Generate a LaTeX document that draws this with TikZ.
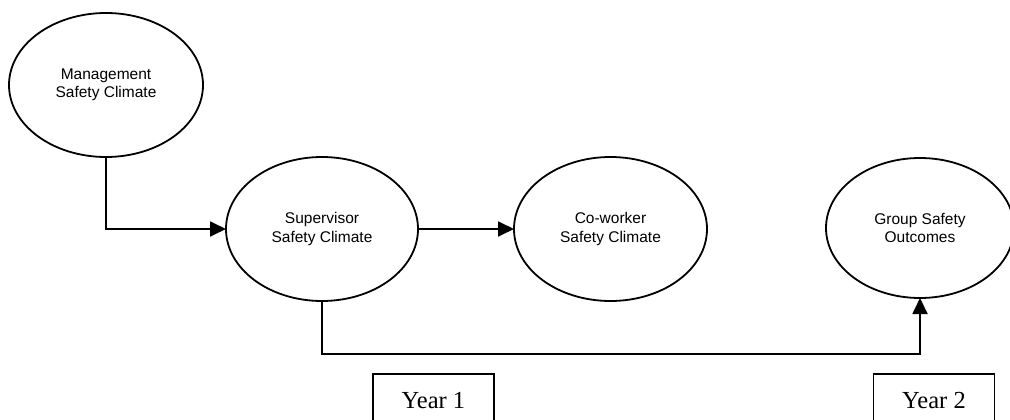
\documentclass[tikz,border=0pt]{standalone}
\usepackage{fontspec}
\newfontfamily\sansf{Liberation Sans}
\newfontfamily\seriff{Liberation Serif}
\usetikzlibrary{shapes.geometric,arrows.meta}
\tikzset{
  construct/.style={draw, ellipse, line width=1.8pt, inner sep=0pt, outer sep=0pt,
    align=center, font=\sansf\fontsize{15.5}{18.5}\selectfont},
  yearbox/.style={draw, line width=1.8pt, anchor=north, minimum width=121pt,
    inner xsep=0pt, inner ysep=0pt, text height=35pt, text depth=30pt,
    font=\seriff\fontsize{24.5}{28}\selectfont},
  link/.style={line width=1.8pt, -{Triangle[length=16pt,width=15pt]}},
  plain/.style={line width=1.8pt}
}
\begin{document}
\begin{tikzpicture}[x=1pt,y=-1pt]
\useasboundingbox (0,0) rectangle (1010,420);
\clip (0,0) rectangle (1010,420);
\node[construct, minimum width=194pt, minimum height=144pt] (mgmt) at (106,85) {Management\\Safety Climate};
\node[construct, minimum width=192pt, minimum height=144pt] (sup) at (322,229) {Supervisor\\Safety Climate};
\node[construct, minimum width=193pt, minimum height=144pt] (cow) at (610.5,229) {Co-worker\\Safety Climate};
\node[construct, minimum width=188pt, minimum height=140pt] (grp) at (920,228) {Group Safety\\Outcomes};
\coordinate (bot) at (0,354);
\draw[link] (mgmt.south) |- (sup.west);
\draw[link] (sup.east) -- (cow.west);
\draw[link] (sup.south) -- (sup.south |- bot) -| (grp.south);
\node[yearbox] (y1) at (433.5,373) {Year 1};
\node[yearbox] (y2) at (934,373) {Year 2};
\end{tikzpicture}
\end{document}
